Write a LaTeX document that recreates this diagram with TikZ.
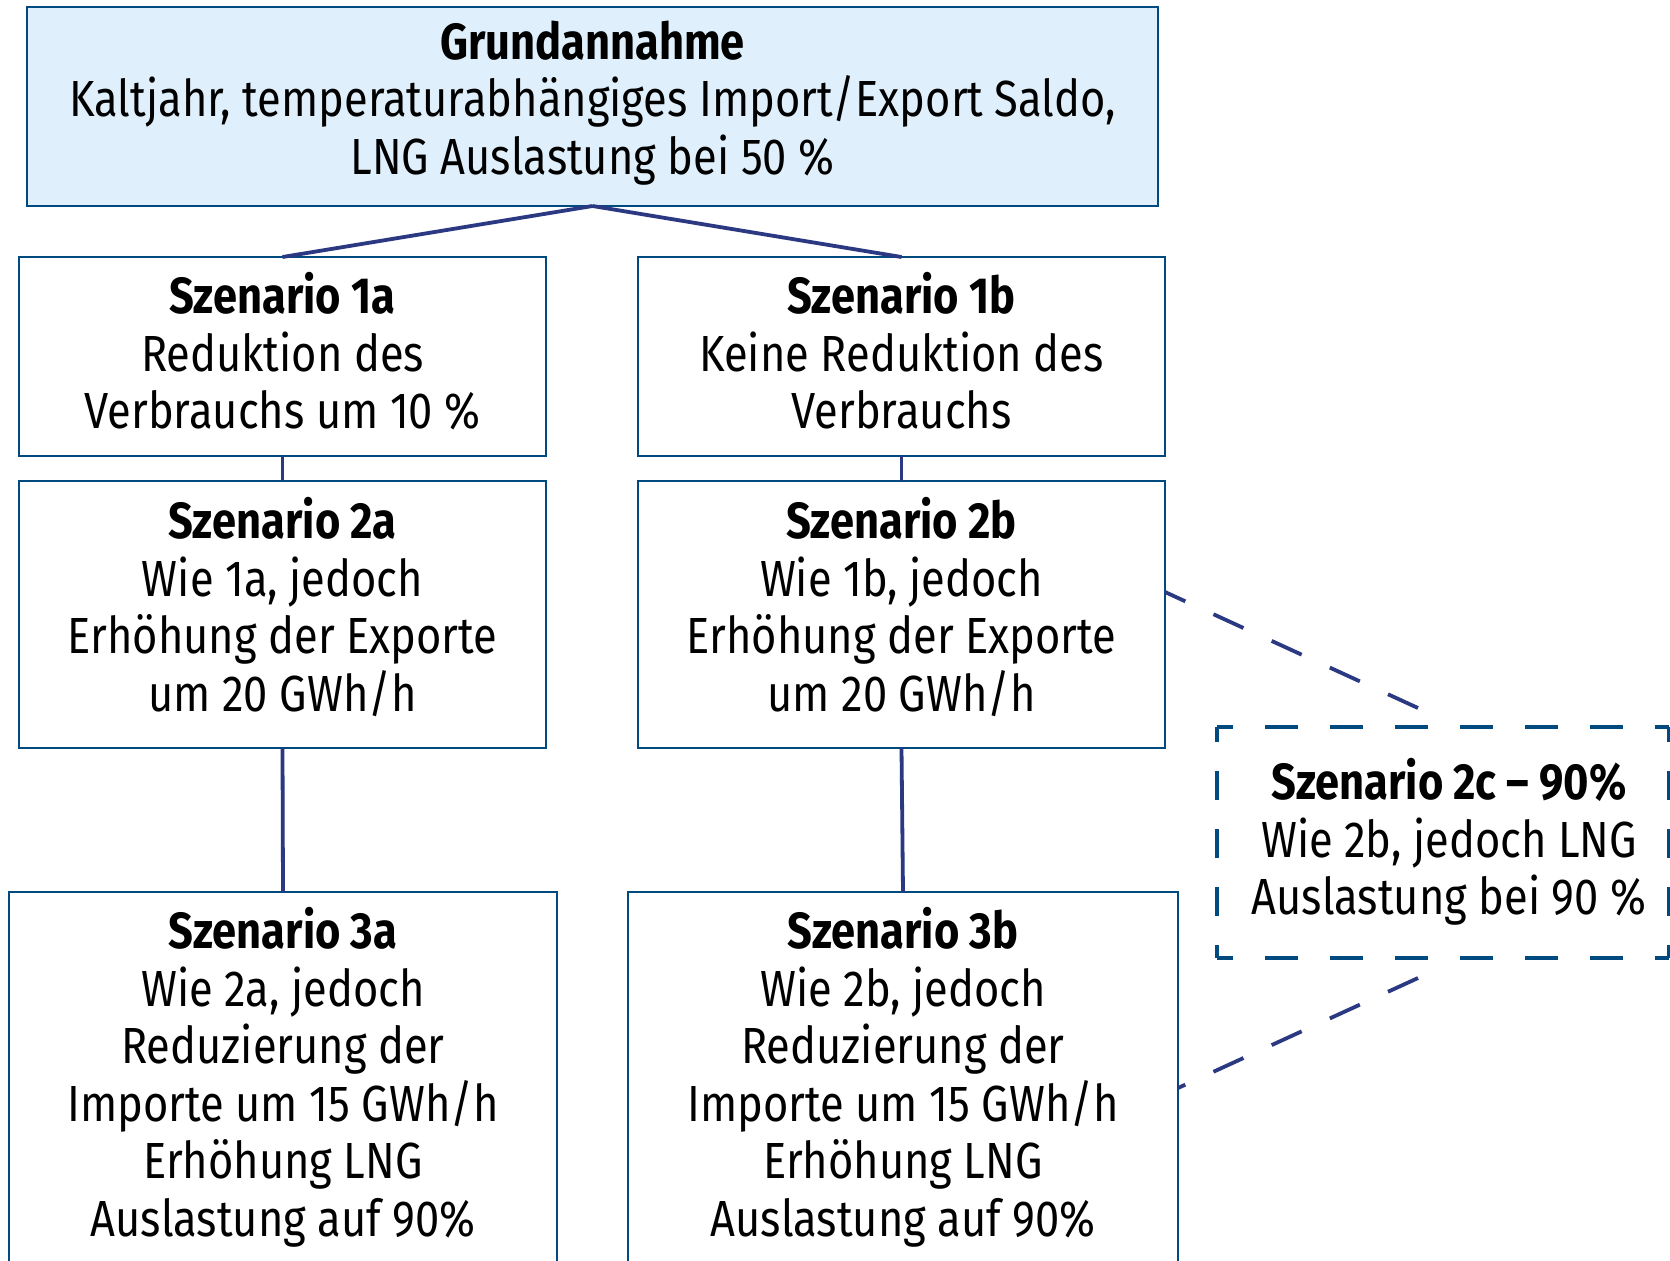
\documentclass[tikz,border=0pt]{standalone}
\usepackage{fontspec}
\setmainfont[FakeStretch=0.855]{Fira Sans}
\usetikzlibrary{calc}
\definecolor{boxblue}{HTML}{004A7F}
\definecolor{lineblue}{HTML}{2B3882}
\definecolor{fillblue}{HTML}{DFF0FC}
\begin{document}
\begin{tikzpicture}[x=0.5pt,y=-0.5pt,
  box/.style={draw=boxblue, line width=1.25pt, inner sep=0pt, outer sep=0pt, anchor=north west},
  txt/.style={align=center, inner sep=0pt, anchor=north, text=black, font=\fontsize{25.4pt}{28.75pt}\selectfont},
  conn/.style={draw=lineblue, line width=1.9pt},
  dconn/.style={draw=lineblue, line width=1.9pt, dash pattern=on 16.5pt off 15.5pt},
  dhside/.style={draw=boxblue, line width=1.8pt, dash pattern=on 16.5pt off 16pt, dash phase=8.5pt},
  dvside/.style={draw=boxblue, line width=1.8pt, dash pattern=on 14.5pt off 14.5pt, dash phase=7pt}]
\useasboundingbox (0,0) rectangle (1670,1260);
\clip (0,0) rectangle (1670,1260);
\fill[white] (0,0) rectangle (1670,1260);

% boxes
\node[box, fill=fillblue, minimum width=565.5pt, minimum height=99.5pt] (g) at (27,7) {};
\node[box, minimum width=263.5pt, minimum height=99.5pt] (s1a) at (19,257) {};
\node[box, minimum width=263.5pt, minimum height=99.5pt] (s1b) at (638,257) {};
\node[box, minimum width=263.5pt, minimum height=133.5pt] (s2a) at (19,481) {};
\node[box, minimum width=263.5pt, minimum height=133.5pt] (s2b) at (638,481) {};
\node[box, minimum width=274pt, minimum height=252.5pt] (s3a) at (9,892) {};
\node[box, minimum width=275pt, minimum height=252.5pt] (s3b) at (628,892) {};
\node[inner sep=0pt, outer sep=0pt, anchor=north west, minimum width=226pt, minimum height=115.5pt] (s2c) at (1217,727) {};

% dashed box sides
\draw[dhside] (s2c.north west) -- (s2c.north east);
\draw[dhside] (s2c.south west) -- (s2c.south east);
\draw[dvside] (s2c.north west) -- (s2c.south west);
\draw[dvside] (s2c.north east) -- (s2c.south east);

% texts
\node[txt] (tg) at (592.5,19) {\rule{0pt}{20pt}\textbf{Grundannahme}\\Kaltjahr, temperaturabhängiges Import/Export Saldo,\\LNG Auslastung bei 50 \%};
\node[txt] (t1a) at (282.5,272) {\rule{0pt}{20pt}\textbf{Szenario 1a}\\Reduktion des\\Verbrauchs um 10 \%};
\node[txt] (t1b) at (901.5,272) {\rule{0pt}{20pt}\textbf{Szenario 1b}\\Keine Reduktion des\\Verbrauchs};
\node[txt] (t2a) at (282.5,497) {\rule{0pt}{20pt}\textbf{Szenario 2a}\\Wie 1a, jedoch\\Erhöhung der Exporte\\um 20 GWh/h};
\node[txt] (t2b) at (901.5,497) {\rule{0pt}{20pt}\textbf{Szenario 2b}\\Wie 1b, jedoch\\Erhöhung der Exporte\\um 20 GWh/h};
\node[txt] (t3a) at (283,907) {\rule{0pt}{20pt}\textbf{Szenario 3a}\\Wie 2a, jedoch\\Reduzierung der\\Importe um 15 GWh/h\\Erhöhung LNG\\Auslastung auf 90\%};
\node[txt] (t3b) at (903,907) {\rule{0pt}{20pt}\textbf{Szenario 3b}\\Wie 2b, jedoch\\Reduzierung der\\Importe um 15 GWh/h\\Erhöhung LNG\\Auslastung auf 90\%};
\node[txt] (t2c) at (1449,758) {\rule{0pt}{20pt}\textbf{Szenario 2c – 90\%}\\Wie 2b, jedoch LNG\\Auslastung bei 90 \%};

% connectors
\draw[conn] (g.south) -- (s1a.north);
\draw[conn] (g.south) -- (s1b.north);
\draw[conn] (s1a.south) -- (s2a.north);
\draw[conn] (s1b.south) -- (s2b.north);
\draw[conn] (s2a.south) -- (s3a.north);
\draw[conn] (s2b.south) -- (s3b.north);

\coordinate (c2t) at (1418,708);
\coordinate (c2b) at (1418,978);
\draw[dconn] (c2t) -- ([yshift=11.25pt]s2b.east);
\draw[dconn] (c2b) -- ([yshift=-98pt]s3b.north east);
\end{tikzpicture}
\end{document}
